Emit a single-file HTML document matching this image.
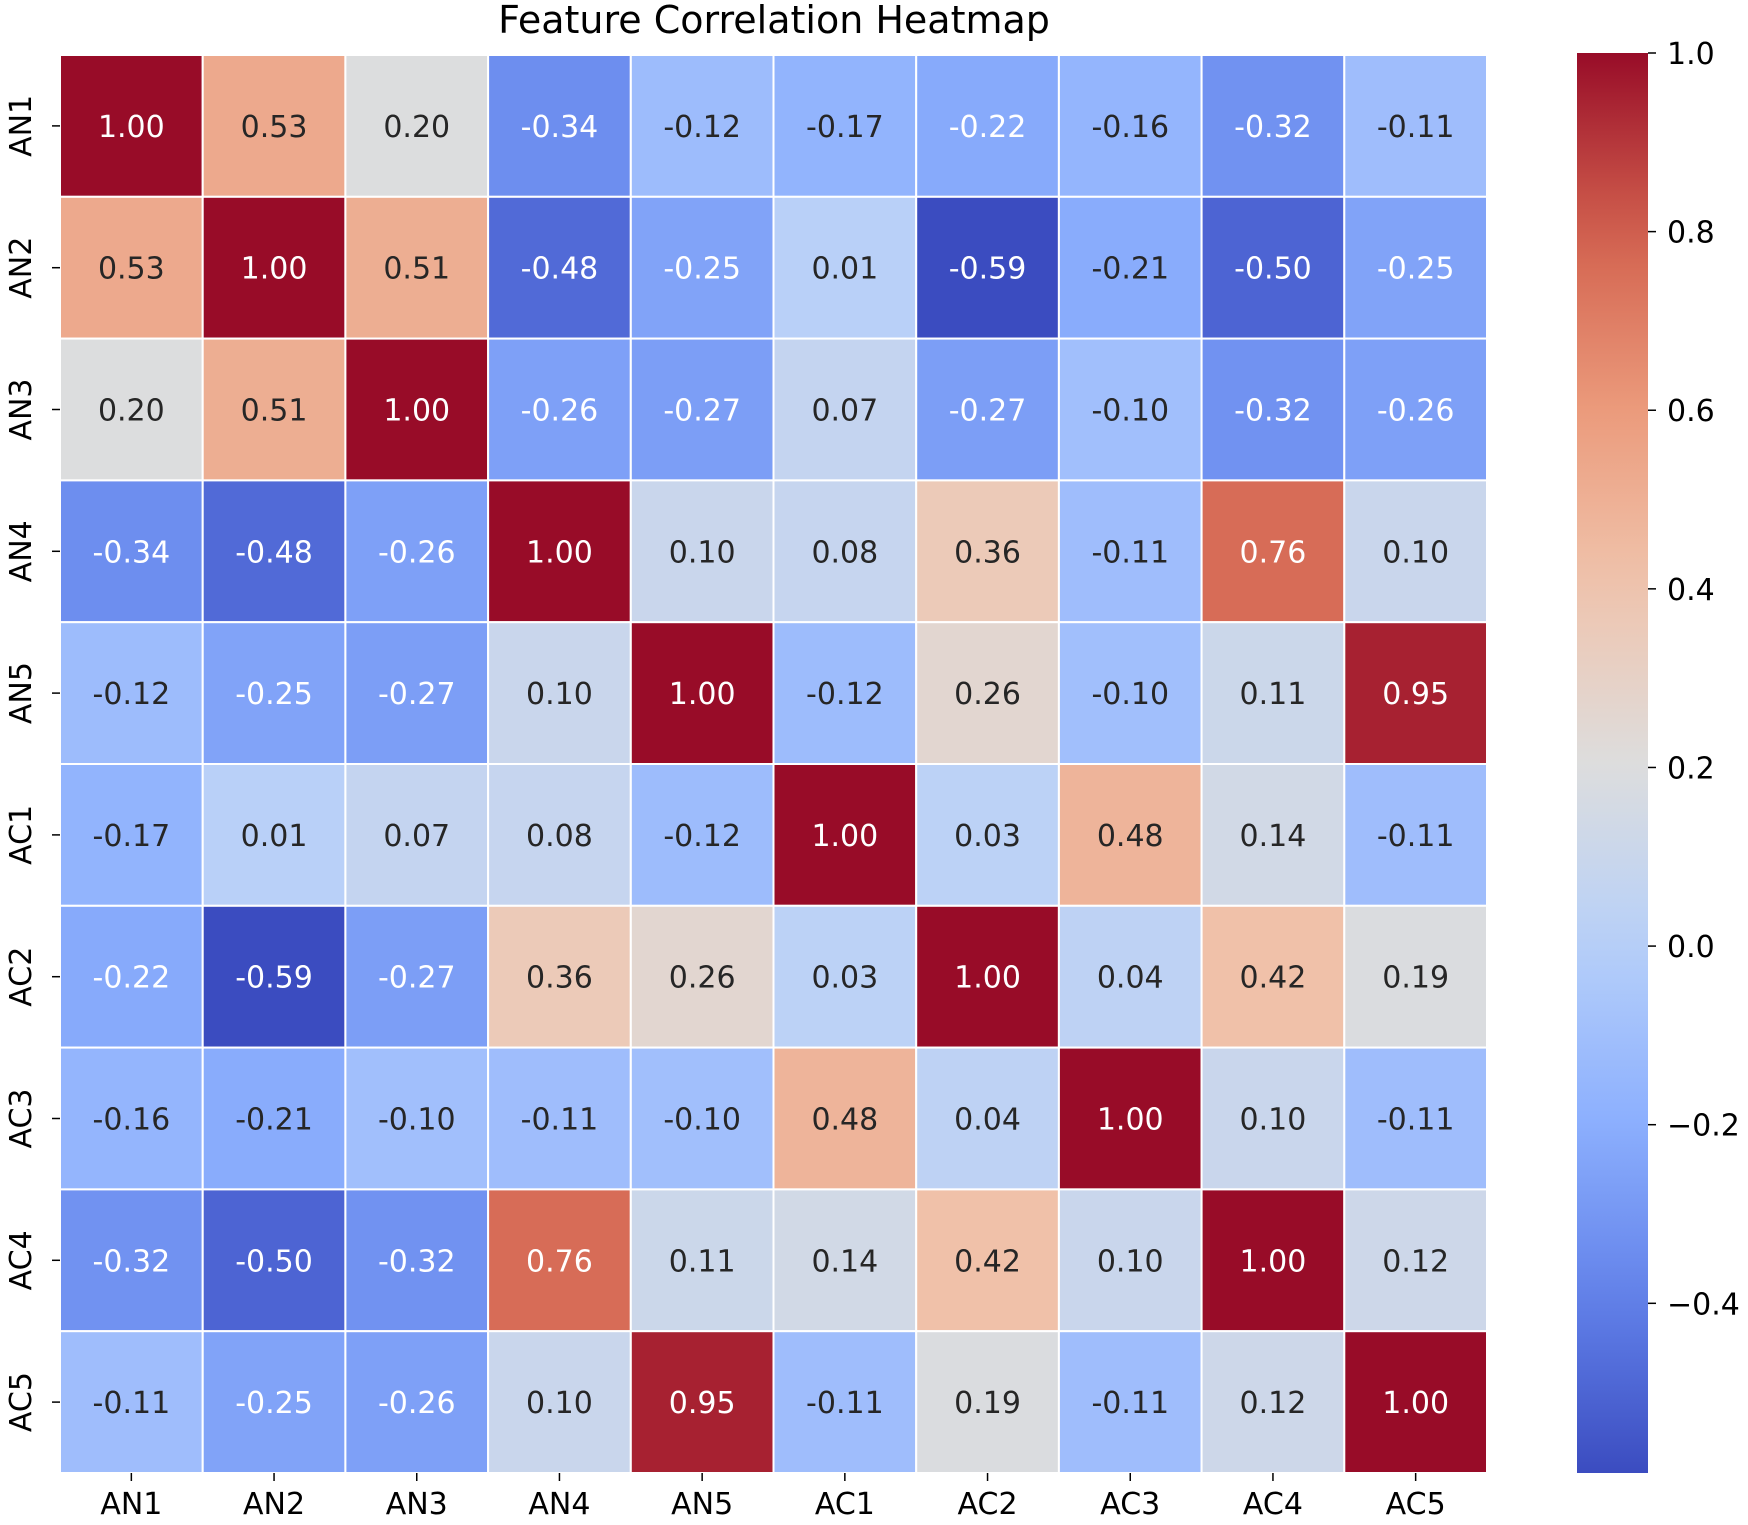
<!DOCTYPE html>
<html><head><meta charset="utf-8"><style>
html,body{margin:0;padding:0;background:#fff;}
svg{display:block;font-family:"DejaVu Sans","Liberation Sans",sans-serif;}
</style></head><body>
<svg id="chart" width="1748" height="1525" viewBox="0 0 1748 1525">
<text x="774" y="33" font-size="38" text-anchor="middle" fill="#000">Feature Correlation Heatmap</text>
<g id="cells"></g>
<g id="xticks"></g>
<g id="yticks"></g>
<defs><linearGradient id="cbgrad" x1="0" y1="1" x2="0" y2="0"></linearGradient></defs>
<rect id="cbar"></rect>
<g id="cbticks"></g>
</svg>
<script>
const labels = ["AN1","AN2","AN3","AN4","AN5","AC1","AC2","AC3","AC4","AC5"];
const row0 = [1.00,0.53,0.20,-0.34,-0.12,-0.17,-0.22,-0.16,-0.32,-0.11];
const row1 = [0.53,1.00,0.51,-0.48,-0.25,0.01,-0.59,-0.21,-0.50,-0.25];
const row2 = [0.20,0.51,1.00,-0.26,-0.27,0.07,-0.27,-0.10,-0.32,-0.26];
const row3 = [-0.34,-0.48,-0.26,1.00,0.10,0.08,0.36,-0.11,0.76,0.10];
const row4 = [-0.12,-0.25,-0.27,0.10,1.00,-0.12,0.26,-0.10,0.11,0.95];
const row5 = [-0.17,0.01,0.07,0.08,-0.12,1.00,0.03,0.48,0.14,-0.11];
const row6 = [-0.22,-0.59,-0.27,0.36,0.26,0.03,1.00,0.04,0.42,0.19];
const row7 = [-0.16,-0.21,-0.10,-0.11,-0.10,0.48,0.04,1.00,0.10,-0.11];
const row8 = [-0.32,-0.50,-0.32,0.76,0.11,0.14,0.42,0.10,1.00,0.12];
const row9 = [-0.11,-0.25,-0.26,0.10,0.95,-0.11,0.19,-0.11,0.12,1.00];
const cbTicks = [1.0,0.8,0.6,0.4,0.2,0.0,-0.2,-0.4];
const matrix = [row0,row1,row2,row3,row4,row5,row6,row7,row8,row9];

const NS="http://www.w3.org/2000/svg";
const X0=60, X1=1487, Y0=55, Y1=1473;
const n=labels.length, cw=(X1-X0)/n, ch=(Y1-Y0)/n;
let vmin=Infinity, vmax=-Infinity;
matrix.forEach(r=>r.forEach(v=>{vmin=Math.min(vmin,v);vmax=Math.max(vmax,v);}));
const stops=[[0,[59,76,192]],[0.125,[98,130,234]],[0.25,[141,176,254]],[0.375,[184,208,249]],[0.5,[221,221,221]],[0.625,[240,196,173]],[0.75,[235,154,123]],[0.875,[210,96,77]],[1,[152,12,40]]];
function cmap(t){t=Math.max(0,Math.min(1,t));for(let i=1;i<stops.length;i++){if(t<=stops[i][0]){const a=stops[i-1],b=stops[i];const f=(t-a[0])/(b[0]-a[0]);return a[1].map((c,k)=>Math.round(c+(b[1][k]-c)*f));}}return stops[stops.length-1][1];}
const xs=i=>X0+i*cw, ys=j=>Y0+j*ch;
const norm=v=>(v-vmin)/(vmax-vmin);
function el(tag,attrs,parent){const e=document.createElementNS(NS,tag);for(const k in attrs)e.setAttribute(k,attrs[k]);parent.appendChild(e);return e;}
const cells=document.getElementById('cells');
matrix.forEach((r,j)=>r.forEach((v,i)=>{
  const t0=norm(v);
  const c=cmap(t0);
  const rc=el('rect',{x:xs(i),y:ys(j),width:cw,height:ch,fill:`rgb(${c})`,stroke:'#fff','stroke-width':2},cells);
  
  
  const white=(t0<0.236||t0>0.8);
  const t=el('text',{x:xs(i)+cw/2,y:ys(j)+ch/2+11,'font-size':30,'text-anchor':'middle',fill:white?'#fff':'#262626'},cells);
  t.textContent=v.toFixed(2);
  
  
}));
const xt=document.getElementById('xticks'), yt=document.getElementById('yticks');
labels.forEach((l,i)=>{
  const cx=xs(i)+cw/2;
  el('line',{x1:cx,y1:Y1,x2:cx,y2:Y1+8,stroke:'#000','stroke-width':1.5},xt);
  const t=el('text',{x:cx,y:Y1+41,'font-size':30,'text-anchor':'middle',fill:'#000'},xt);
  t.textContent=l;
  
  
  const cy=ys(i)+ch/2;
  el('line',{x1:X0-8,y1:cy,x2:X0,y2:cy,stroke:'#000','stroke-width':1.5},yt);
  const u=el('text',{x:0,y:0,'font-size':30,'text-anchor':'middle',fill:'#000',transform:`translate(${X0-29},${cy}) rotate(-90)`},yt);
  u.textContent=l;
  
  
});
const CX0=1577, CX1=1648, CY0=53, CY1=1473;
const g=document.getElementById('cbgrad');
for(let k=0;k<=20;k++){const c=cmap(k/20);el('stop',{offset:(k/20),'stop-color':`rgb(${c})`},g);}
const cb=document.getElementById('cbar');
cb.setAttribute('x',CX0);cb.setAttribute('y',CY0);cb.setAttribute('width',CX1-CX0);cb.setAttribute('height',CY1-CY0);cb.setAttribute('fill','url(#cbgrad)');
const cbt=document.getElementById('cbticks');
const cby=v=>CY1-(v-vmin)/(vmax-vmin)*(CY1-CY0);
cbTicks.forEach(v=>{
  const y=cby(v);
  el('line',{x1:CX1,y1:y,x2:CX1+8,y2:y,stroke:'#000','stroke-width':1.5},cbt);
  const t=el('text',{x:CX1+19,y:y+11,'font-size':30,fill:'#000'},cbt);
  t.textContent=(v<0?'\u2212':'')+Math.abs(v).toFixed(1);
  
  
});
</script>
</body></html>
